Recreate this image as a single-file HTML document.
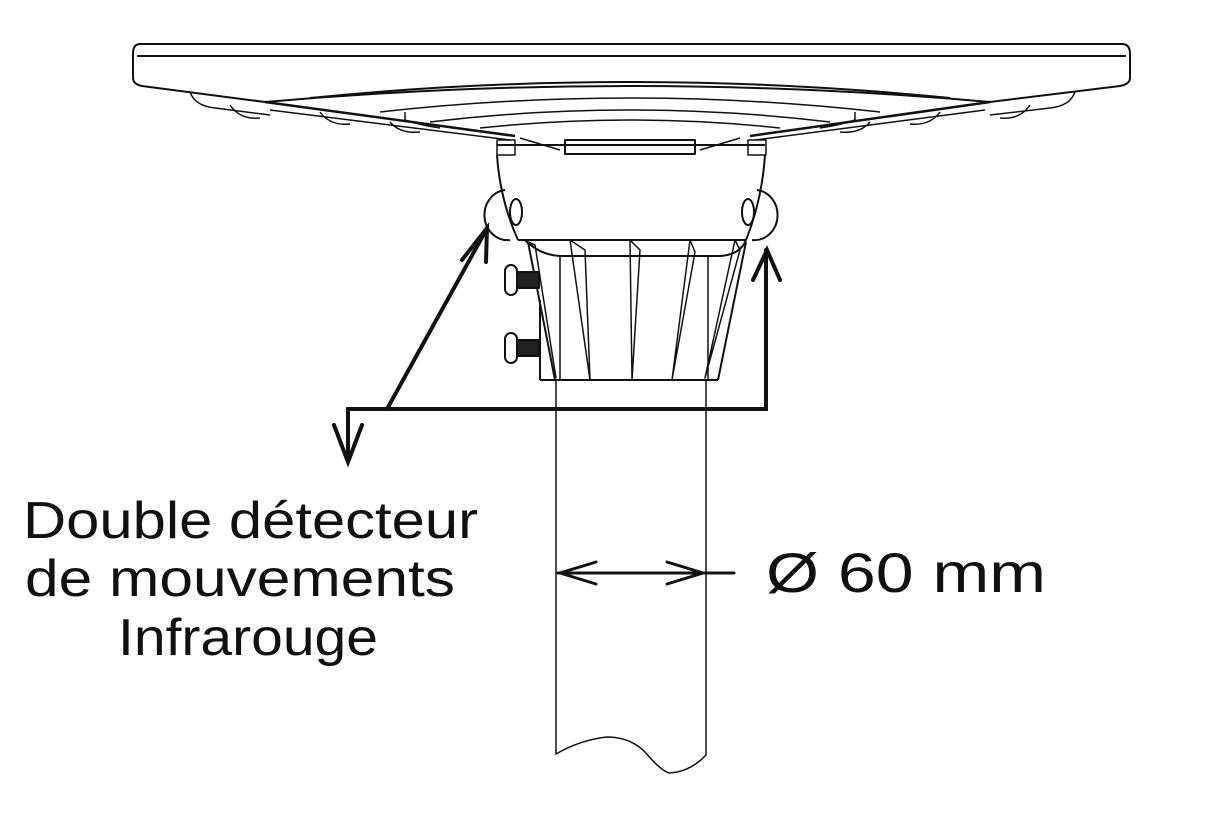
<!DOCTYPE html>
<html><head><style>
html,body{margin:0;padding:0;background:#fff;}
svg{display:block}
text{font-family:"Liberation Sans",sans-serif;fill:#111}
</style></head><body>
<svg width="1231" height="817" viewBox="0 0 1231 817" xmlns="http://www.w3.org/2000/svg">
<g fill="none" stroke="#111" stroke-width="2" stroke-linejoin="round">
<!-- top plate -->
<path d="M140 44 H1122 Q1130 44 1130 54 V78 Q1130 84 1120 86 L990 102 M140 44 Q133 44 133 54 V78 Q133 84 142 86 L265 102"/>
<line x1="137" y1="56" x2="1126" y2="56"/>
<path d="M265 102 Q630 70 990 102"/>
<path d="M265 102 L515 136 M990 102 L750 136" stroke-width="2.5"/>
<path d="M270 110 L510 140 M985 110 L755 140" stroke-width="1.5"/>
<path d="M190 92 Q195 106 215 108 L270 115 M1075 92 Q1070 106 1050 108 L990 115" stroke-width="1.5"/>
<path d="M310 98 Q630 66 950 98" stroke-width="2"/>
<path d="M380 112 Q630 84 880 112" stroke-width="1.5"/>
<path d="M405 112 V120 Q420 125 440 128 M855 112 V120 Q840 125 820 128" stroke-width="1.5"/>
<path d="M430 122 Q630 98 830 122" stroke-width="1.5"/>
<path d="M480 128 Q630 112 780 128" stroke-width="1.5"/>
<path d="M230 105 Q240 120 260 118 M320 112 Q330 126 350 124 M390 122 Q400 134 420 132 M1030 105 Q1020 120 1000 118 M940 112 Q930 126 910 124 M870 122 Q860 134 840 132" stroke-width="1.5"/>
<rect x="565" y="140" width="130" height="14" />
<path d="M520 138 L560 150 M740 138 L700 150" stroke-width="1.5"/>
<!-- housing -->
<path d="M497 145 H765"/>
<rect x="497" y="140" width="18" height="15" stroke-width="1.5"/>
<rect x="748" y="140" width="18" height="15" stroke-width="1.5"/>
<path d="M497 155 Q500 200 518 240 M765 155 Q762 200 746 240"/>
<path d="M518 240 H746"/>
<path d="M525 240 Q540 255 560 256 H720 Q740 255 746 240"/>
<!-- sensors -->
<path d="M505 190 A22 24 0 0 0 510 240 M757 190 A22 24 0 0 1 752 240"/>
<ellipse cx="516" cy="212" rx="6" ry="13"/>
<ellipse cx="748" cy="212" rx="6" ry="13"/>
<!-- fins body -->
<path d="M528 242 L555 380 M746 242 L718 380"/>
<path d="M540 380 H718"/>
<path d="M540 300 V380"/>
<path d="M560 256 V380 M708 256 V380" stroke-width="1.5"/>
<path d="M528 242 L535 245 L556 378" stroke-width="1.5"/>
<path d="M570 240 L585 250 L590 380 Z M630 240 L640 250 L632 380 Z M690 240 L695 252 L672 380 Z M735 240 L740 250 L705 378 Z" stroke-width="1.5"/>
<!-- screws -->
<rect x="505" y="265" width="12" height="30" rx="6"/>
<rect x="517" y="272" width="22" height="16" fill="#222"/>
<rect x="505" y="333" width="12" height="30" rx="6"/>
<rect x="517" y="340" width="22" height="16" fill="#222"/>
<!-- pole -->
<path d="M556 380 V754 Q580 740 607 737 Q630 737 645 752 Q660 770 669 773 Q690 772 706 755 V380" stroke-width="1.5"/>
</g>
<g fill="none" stroke="#111" stroke-width="4" stroke-linecap="round" stroke-linejoin="miter">
<path d="M387 409 L485 232"/>
<path d="M462 260 L487 228 L486 262"/>
<path d="M766 250 V409 H348 V460"/>
<path d="M334 425 L348 462 L362 425"/>
<path d="M753 280 L767 250 L780 280"/>
<path d="M558 573 H734" stroke-width="3"/>
<path d="M596 562 L560 573 L596 584 M667 562 L703 573 L667 584" stroke-width="3"/>
</g>
<text x="766" y="592" font-size="56" textLength="280" lengthAdjust="spacingAndGlyphs">Ø 60 mm</text>
<text x="23" y="538" font-size="52" textLength="455" lengthAdjust="spacingAndGlyphs">Double détecteur</text>
<text x="25" y="596" font-size="52" textLength="430" lengthAdjust="spacingAndGlyphs">de mouvements</text>
<text x="118" y="655" font-size="52" textLength="260" lengthAdjust="spacingAndGlyphs">Infrarouge</text>
</svg>
</body></html>
